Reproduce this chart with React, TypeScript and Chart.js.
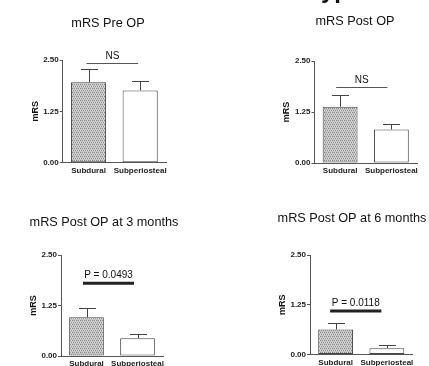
import React, { useEffect, useRef } from "react";
import { Chart, registerables } from "chart.js";

Chart.register(...registerables);

// ---- data ----
const categories = ["Subdural", "Subperiosteal"];
const yTickValues = [0, 1.25, 2.5];
const yTickLabels = ["0.00", "1.25", "2.50"];
const panelTitles = ["mRS Pre OP", "mRS Post OP", "mRS Post OP at 3 months", "mRS Post OP at 6 months"];
const yAxisTitle = "mRS";

const preOpMeans = [1.96, 1.76];
const preOpSem = [0.32, 0.24];
const postOpMeans = [1.38, 0.82];
const postOpSem = [0.29, 0.14];
const threeMonthMeans = [0.96, 0.44];
const threeMonthSem = [0.23, 0.11];
const sixMonthMeans = [0.63, 0.16];
const sixMonthSem = [0.17, 0.07];

const comparisonLabels = ["NS", "NS", "P = 0.0493", "P = 0.0118"];
const comparisonLevels = [2.42, 1.86, 1.8, 1.09];
const comparisonSignificant = [false, false, true, true];

const panelMeans = [preOpMeans, postOpMeans, threeMonthMeans, sixMonthMeans];
const panelSem = [preOpSem, postOpSem, threeMonthSem, sixMonthSem];

// ---- layout (pixels) ----
const W = 429;
const H = 366;
const CANVAS_H = 390;
const Y_AXIS_W = 34;
const X_AXIS_H = 16;
const FONT = "'Liberation Sans', Arial, sans-serif";
const panelBoxes = [
  { left: 62.7, right: 166, top: 60, bottom: 162.7, titleX: 108, titleY: 23, shift: -2 },
  { left: 314.5, right: 417, top: 61, bottom: 163, titleX: 355, titleY: 21, shift: -4 },
  { left: 61, right: 163, top: 255, bottom: 356, titleX: 104, titleY: 222, shift: -3.5 },
  { left: 310, right: 412.5, top: 255, bottom: 354.5, titleX: 352, titleY: 218, shift: -5.5 },
];

function makeStipple(): CanvasPattern | string {
  const c = document.createElement("canvas");
  c.width = 4;
  c.height = 4;
  const g = c.getContext("2d");
  if (!g) return "#bbb";
  g.fillStyle = "#dedede";
  g.fillRect(0, 0, 4, 4);
  g.fillStyle = "#c4c4c4";
  g.fillRect(1, 0, 1, 1);
  g.fillRect(0, 1, 4, 1);
  g.fillRect(0, 3, 4, 1);
  g.fillStyle = "#8a8a8a";
  g.fillRect(0, 0, 1, 1);
  g.fillRect(2, 0, 1, 1);
  g.fillRect(1, 2, 1, 1);
  g.fillRect(3, 2, 1, 1);
  const p = g.createPattern(c, "repeat");
  return p || "#bbb";
}

const extrasPlugin = {
  id: "panelExtras",
  afterDatasetsDraw(chart: any) {
    const o = chart.options.plugins.panelExtras;
    if (!o) return;
    const ctx = chart.ctx;
    const xs = chart.scales.x;
    const ys = chart.scales.y;
    const meta = chart.getDatasetMeta(0);
    ctx.save();
    // error bars (upper only)
    ctx.strokeStyle = "#444";
    ctx.lineWidth = 1;
    meta.data.forEach((bar: any, i: number) => {
      const top = ys.getPixelForValue(o.means[i] + o.sem[i]);
      const x = Math.round(bar.x) + 0.5;
      ctx.beginPath();
      ctx.moveTo(x, bar.y);
      ctx.lineTo(x, Math.round(top) + 0.5);
      ctx.moveTo(x - 8.5, Math.round(top) + 0.5);
      ctx.lineTo(x + 8.5, Math.round(top) + 0.5);
      ctx.stroke();
    });
    // comparison line + label
    const yl = ys.getPixelForValue(o.level);
    const x0 = xs.getPixelForValue(0) + o.shift;
    const x1 = xs.getPixelForValue(1) + o.shift;
    ctx.beginPath();
    ctx.strokeStyle = o.significant ? "#222" : "#555";
    ctx.lineWidth = o.significant ? 3 : 1;
    const yy = o.significant ? yl : Math.round(yl) + 0.5;
    ctx.moveTo(x0, yy);
    ctx.lineTo(x1, yy);
    ctx.stroke();
    ctx.fillStyle = "#111";
    ctx.font = "10px " + FONT;
    ctx.textAlign = "center";
    ctx.textBaseline = "alphabetic";
    ctx.fillText(o.label, (x0 + x1) / 2, yl - (o.significant ? 5 : 4));
    ctx.restore();
  },
  afterDraw(chart: any) {
    const o = chart.options.plugins.panelExtras;
    if (!o) return;
    const ctx = chart.ctx;
    ctx.save();
    ctx.fillStyle = "#111";
    ctx.font = "12.7px " + FONT;
    ctx.textAlign = "center";
    ctx.textBaseline = "middle";
    ctx.fillText(o.title, o.titleX, o.titleY);
    if (o.fragment) {
      ctx.font = "bold 24px " + FONT;
      ctx.textAlign = "left";
      ctx.textBaseline = "alphabetic";
      ctx.fillText(o.fragment, 321, -2);
    }
    ctx.restore();
  },
};

function Panel({ index }: { index: number }) {
  const ref = useRef<HTMLCanvasElement | null>(null);
  useEffect(() => {
    const canvas = ref.current;
    if (!canvas) return;
    const box = panelBoxes[index];
    const stipple = makeStipple();
    const chart = new Chart(canvas, {
      type: "bar",
      data: {
        labels: categories,
        datasets: [
          {
            data: panelMeans[index],
            backgroundColor: [stipple as any, "#ffffff"],
            borderColor: "#444",
            borderWidth: 1,
            borderSkipped: false,
            barPercentage: 0.68,
            categoryPercentage: 1,
          },
        ],
      },
      options: {
        responsive: false,
        animation: false,
        events: [],
        layout: {
          padding: {
            left: box.left - Y_AXIS_W,
            right: W - box.right,
            top: box.top,
            bottom: CANVAS_H - box.bottom - X_AXIS_H,
          },
        },
        plugins: {
          legend: { display: false },
          tooltip: { enabled: false },
          title: { display: false },
          panelExtras: {
            means: panelMeans[index],
            sem: panelSem[index],
            level: comparisonLevels[index],
            label: comparisonLabels[index],
            significant: comparisonSignificant[index],
            title: panelTitles[index],
            titleX: box.titleX,
            titleY: box.titleY,
            shift: box.shift,
            fragment: index === 1 ? "yp" : "",
          },
        } as any,
        scales: {
          x: {
            type: "category",
            offset: true,
            grid: { display: false, drawTicks: false },
            border: { display: true, color: "#555", width: 1 },
            ticks: {
              color: "#222",
              padding: 3,
              maxRotation: 0,
              autoSkip: false,
              font: { family: FONT, size: 8, weight: "bold" },
            },
            afterFit(scale: any) {
              scale.height = X_AXIS_H;
            },
          },
          y: {
            type: "linear",
            min: 0,
            max: 2.5,
            afterBuildTicks(scale: any) {
              scale.ticks = yTickValues.map((v) => ({ value: v }));
            },
            grid: { drawOnChartArea: false, drawTicks: true, tickLength: 3, color: "#555" },
            border: { display: true, color: "#555", width: 1 },
            ticks: {
              color: "#222",
              padding: 1,
              font: { family: FONT, size: 8, weight: "bold" },
              callback: (v: any) => {
                const i = yTickValues.indexOf(Number(v));
                return i >= 0 ? yTickLabels[i] : "";
              },
            },
            title: {
              display: true,
              text: yAxisTitle,
              color: "#111",
              padding: { top: 1, bottom: 0 },
              font: { family: FONT, size: 9, weight: "bold" },
            },
            afterFit(scale: any) {
              scale.width = Y_AXIS_W;
            },
          },
        },
      },
      plugins: [extrasPlugin],
    } as any);
    return () => chart.destroy();
  }, [index]);
  return (
    <canvas
      ref={ref}
      width={W}
      height={CANVAS_H}
      style={{ position: "absolute", left: 0, top: 0, width: W, height: CANVAS_H }}
    />
  );
}

export default function App() {
  return (
    <div
      style={{
        position: "fixed",
        left: 0,
        top: 0,
        width: W,
        height: H,
        background: "#ffffff",
        overflow: "hidden",
      }}
    >
      {[0, 1, 2, 3].map((i) => (
        <Panel key={i} index={i} />
      ))}
    </div>
  );
}
